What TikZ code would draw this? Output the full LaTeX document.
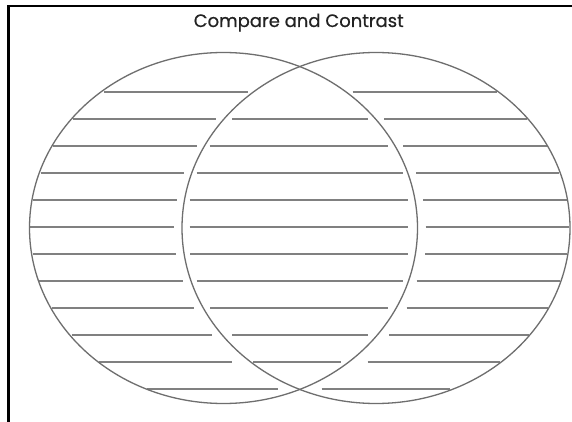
\documentclass[tikz,border=0pt]{standalone}
\usepackage{fontspec}
\setmainfont{Poppins}
\newfontfamily\titlefont[FakeBold=0.6]{Poppins}
\definecolor{ringgray}{HTML}{6E6E6E}
\definecolor{rulegray}{HTML}{808080}
\definecolor{titleink}{HTML}{222222}
\begin{document}
\begin{tikzpicture}[x=1pt,y=-1pt,
  ring/.style={draw=ringgray,line width=1.3pt},
  writeline/.style={draw=rulegray,line width=2pt},
  frameline/.style={draw=black,line width=2.4pt},
  titletext/.style={font=\titlefont\fontsize{18}{21}\selectfont,text=titleink,inner sep=0pt,anchor=base}]
\useasboundingbox (0,0) rectangle (572,422);
\fill[white] (0,0) rectangle (572,422);
% frame
\coordinate (fTR) at (572,6.2);
\coordinate (fTL) at (8.3,6.2);
\coordinate (fBL) at (8.3,422);
\draw[frameline] (fTR) -- (fTL) -- (fBL);
% title
\node[titletext] (title) at (298.7,27) {Compare and Contrast};
% writing lines
\foreach \y/\segs in {
  92/{104.3/247.7,352.7/496.7},
  119/{73.3/216,232.3/367.7,384.3/526.7},
  146/{53.3/196.7,209.5/388.3,403.3/546.7},
  173/{40.7/184,196.7/402.5,416/559.3},
  200/{33.3/176.7,189.6/408.3,423.3/567.3},
  227/{30/174,189.6/408.3,425.7/569.3},
  254/{32.7/175.7,190/408.3,425/567.3},
  281/{39.3/183.3,196.7/402.5,416.7/560},
  308/{51.7/194,210/388.3,406.7/548.3},
  335/{71.7/211.7,232.3/368.3,389/529.3},
  362/{99.3/232.3,253.3/341,367.7/500},
  389/{146.7/278.3,321.7/450}}{
  \foreach \a/\b in \segs {
    \draw[writeline] (\a,\y) -- (\b,\y);
  }
}
% circles
\coordinate (cL) at (223.5,228);
\coordinate (cR) at (376,228);
\draw[ring] (cL) ellipse [x radius=194, y radius=175.5];
\draw[ring] (cR) ellipse [x radius=194, y radius=175.5];
\end{tikzpicture}
\end{document}
